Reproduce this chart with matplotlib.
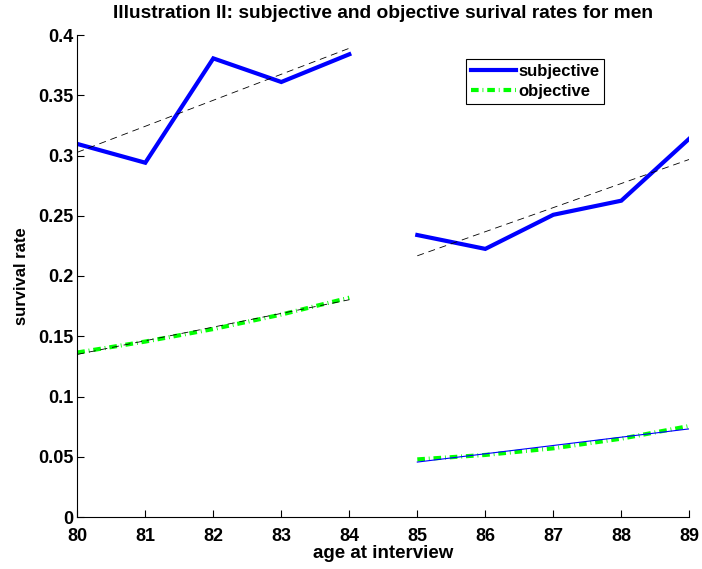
import numpy as np
import matplotlib
matplotlib.use("Agg")
import matplotlib.pyplot as plt
from matplotlib import font_manager

names = {f.name for f in font_manager.fontManager.ttflist}
fam = 'Liberation Sans Narrow' if 'Liberation Sans Narrow' in names else 'Liberation Sans'
plt.rcParams['font.family'] = [fam, 'DejaVu Sans']
plt.rcParams['font.weight'] = 'bold'
plt.rcParams['lines.scale_dashes'] = False

# ---- data ----
ages1 = [80, 81, 82, 83, 84]
ages2 = [85, 86, 87, 88, 89]
subj1 = [0.3096, 0.294, 0.3806, 0.361, 0.384]
subj2 = [0.234, 0.2225, 0.2508, 0.2625, 0.314]
obj1 = [0.1365, 0.1456, 0.156, 0.168, 0.182]
obj2 = [0.0478, 0.0515, 0.057, 0.065, 0.0755]
xticks = list(range(80, 90))
yticks = [0, 0.05, 0.1, 0.15, 0.2, 0.25, 0.3, 0.35, 0.4]
yticklabels = ['0', '0.05', '0.1', '0.15', '0.2', '0.25', '0.3', '0.35', '0.4']

fig = plt.figure(figsize=(7.02, 5.69), dpi=100)
ax = fig.add_axes([77.3 / 702, (569 - 517) / 569, 612 / 702, 482 / 569])

blue = '#0000ff'
green = '#00ff00'

def fit(x, y):
    c = np.polyfit(x, y, 1)
    return np.polyval(c, x)

l1, = ax.plot(ages1, subj1, color=blue, lw=3, solid_joinstyle='miter', label='subjective', zorder=2)
ax.plot(ages2, subj2, color=blue, lw=3, solid_joinstyle='miter', zorder=2)
l2, = ax.plot(ages1, obj1, color=green, lw=3, dashes=(5.5, 2.8, 0.6, 2.8), dash_capstyle='butt', label='objective', zorder=2)
ax.plot(ages2, obj2, color=green, lw=3, dashes=(5.5, 2.8, 0.6, 2.8), dash_capstyle='butt', zorder=2)

ax.plot(ages1, fit(ages1, subj1), color='black', lw=0.6, dashes=(5, 3.5), zorder=3)
ax.plot(ages2, fit(ages2, subj2), color='black', lw=0.6, dashes=(5, 3.5), zorder=3)
ax.plot(ages1, fit(ages1, obj1), color='black', lw=0.6, dashes=(5, 3.5), zorder=3)
ax.plot(ages2, fit(ages2, obj2), color=blue, lw=0.8, zorder=3)

ax.set_xlim(80, 89)
ax.set_ylim(0, 0.4)
ax.set_xticks(xticks)
ax.set_xticklabels([str(t) for t in xticks])
ax.set_yticks(yticks)
ax.set_yticklabels(yticklabels)
ax.tick_params(direction='in', length=5, width=0.8, labelsize=13)
ax.tick_params(axis='x', pad=8)
ax.tick_params(axis='y', pad=3)
for s in ['top', 'right']:
    ax.spines[s].set_visible(False)
for s in ['left', 'bottom']:
    ax.spines[s].set_linewidth(0.8)

ax.set_xlabel('age at interview', fontsize=13.5, fontweight='bold', labelpad=0)
ax.set_ylabel('survival rate', fontsize=12, fontweight='bold', labelpad=6)
ax.set_title('Illustration II: subjective and objective surival rates for men',
             fontsize=13.75, fontweight='bold', pad=12)

leg = ax.legend(handles=[l1, l2], loc='upper left', bbox_to_anchor=(0.635, 0.95),
                borderaxespad=0, fancybox=False, edgecolor='black', framealpha=1,
                fontsize=12, handlelength=2.7, handletextpad=0.18,
                labelspacing=0.31, borderpad=0.28)
leg.get_frame().set_linewidth(0.8)

fig.savefig('out.png', dpi=100)
